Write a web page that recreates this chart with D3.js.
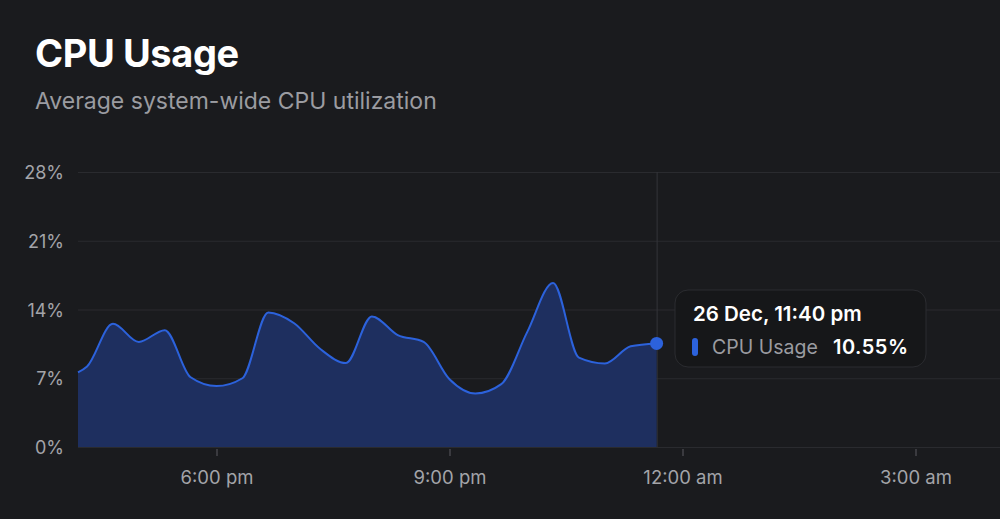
<!DOCTYPE html>
<html>
<head>
<meta charset="utf-8">
<script src="https://cdn.jsdelivr.net/npm/d3@7"></script>
<style>
  html, body { margin: 0; padding: 0; background: #1a1b1e; }
  svg { display: block; font-family: Inter, "Noto Sans", sans-serif; }
</style>
</head>
<body>
<svg id="chart" width="1000" height="519"></svg>
<script>
// readings every 20 minutes, 26 Dec (first one is the partial start of the window)
var times = [
  "16:13", "16:20", "16:40", "17:00", "17:20", "17:40", "18:00", "18:20", "18:40",
  "19:00", "19:20", "19:40", "20:00", "20:20", "20:40", "21:00", "21:20", "21:40",
  "22:00", "22:20", "22:40", "23:00", "23:20", "23:40"
];
var cpuValues = [
  7.6, 8.2, 12.55, 10.7, 11.9, 7.1, 6.2, 7.0, 13.7,
  12.6, 10.0, 8.55, 13.3, 11.4, 10.7, 6.9, 5.45, 6.4,
  11.7, 16.7, 9.1, 8.5, 10.25, 10.55
];
var yTicks = [0, 7, 14, 21, 28];
var xTickTimes = ["2024-12-26 18:00", "2024-12-26 21:00", "2024-12-27 00:00", "2024-12-27 03:00"];
var domainStart = "2024-12-26 16:13", domainEnd = "2024-12-27 04:13";

var parse = d3.timeParse("%Y-%m-%d %H:%M");
var data = times.map(function(t, i) {
  return {date: parse("2024-12-26 " + t), value: cpuValues[i]};
});

var svg = d3.select("#chart");

var x = d3.scaleTime().domain([parse(domainStart), parse(domainEnd)]).range([78, 1010]);
var y = d3.scaleLinear().domain([0, 28]).range([447, 172]);

// title
svg.append("text").attr("x", 35).attr("y", 67)
  .attr("fill", "#ffffff").style("font-size", "38px").style("font-weight", 700)
  .style("letter-spacing", "-0.4px").text("CPU Usage");
svg.append("text").attr("x", 35).attr("y", 109)
  .attr("fill", "#9b9ca1").style("font-size", "23px")
  .text("Average system-wide CPU utilization");

// grid
svg.append("g").selectAll("line")
  .data(yTicks).enter().append("line")
  .attr("x1", 78).attr("x2", 1000)
  .attr("y1", function(d) { return y(d) + 0.5; })
  .attr("y2", function(d) { return y(d) + 0.5; })
  .style("stroke", "#2a2b2f").style("stroke-width", 1);

// y labels
svg.append("g").selectAll("text")
  .data(yTicks).enter().append("text")
  .attr("x", 64).attr("y", function(d) { return y(d) + 7; })
  .attr("text-anchor", "end")
  .attr("fill", "#a3a4a9").style("font-size", "18px")
  .text(function(d) { return d + "%"; });

// x axis
var xAxis = svg.append("g").attr("transform", "translate(0,448)")
  .call(d3.axisBottom(x)
    .tickValues(xTickTimes.map(parse))
    .tickSize(8).tickPadding(15)
    .tickFormat(function(d) { return d3.timeFormat("%-I:%M %p")(d).toLowerCase(); }));
xAxis.select(".domain").remove();
xAxis.selectAll(".tick line").style("stroke", "#5a5b60").attr("y1", 1);
xAxis.selectAll(".tick text").attr("fill", "#a3a4a9").style("font-size", "18.5px")
  .style("font-family", "Inter, sans-serif");

var last = data[data.length - 1];

// crosshair
svg.append("line")
  .attr("x1", x(last.date) + 0.5).attr("x2", x(last.date) + 0.5)
  .attr("y1", 172).attr("y2", 447)
  .style("stroke", "#34353a").style("stroke-width", 1);

var area = d3.area()
  .curve(d3.curveMonotoneX)
  .x(function(d) { return x(d.date); })
  .y0(y(0))
  .y1(function(d) { return y(d.value); });

var line = d3.line()
  .curve(d3.curveMonotoneX)
  .x(function(d) { return x(d.date); })
  .y(function(d) { return y(d.value); });

svg.append("path").datum(data)
  .attr("d", area)
  .style("fill", "#1e2f5f");

svg.append("path").datum(data)
  .attr("d", line)
  .style("fill", "none")
  .style("stroke", "#2c62dc")
  .style("stroke-width", 2);

svg.append("circle")
  .attr("cx", x(last.date)).attr("cy", y(last.value)).attr("r", 6.5)
  .style("fill", "#2c62dc");

// tooltip
var tip = svg.append("g").attr("transform", "translate(675,290)");
tip.append("rect")
  .attr("width", 251).attr("height", 77).attr("rx", 13)
  .style("fill", "#161719").style("stroke", "#2b2c30").style("stroke-width", 1);
tip.append("text").attr("x", 18).attr("y", 31)
  .attr("fill", "#ffffff").style("font-size", "20.5px").style("font-weight", 600)
  .text(d3.timeFormat("%d %b, %-I:%M ")(last.date) + d3.timeFormat("%p")(last.date).toLowerCase());
tip.append("rect")
  .attr("x", 17).attr("y", 48).attr("width", 6).attr("height", 18).attr("rx", 3)
  .style("fill", "#2c62dc");
tip.append("text").attr("x", 37).attr("y", 64)
  .attr("fill", "#9b9ca1").style("font-size", "19.5px")
  .text("CPU Usage");
tip.append("text").attr("x", 158).attr("y", 64)
  .attr("fill", "#ffffff").style("font-size", "20px").style("font-weight", 600)
  .style("letter-spacing", "0.5px")
  .text(last.value.toFixed(2) + "%");
</script>
</body>
</html>
